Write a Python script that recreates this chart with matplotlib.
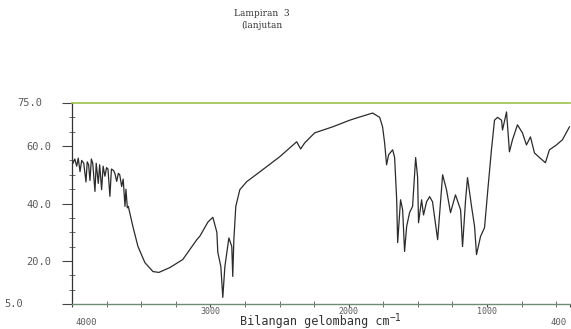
import numpy as np
import matplotlib.pyplot as plt
from matplotlib.ticker import MultipleLocator

# wavenumber (cm-1) and %T
wavenumber = [
    3993, 3980, 3966, 3955, 3942, 3930, 3915, 3899, 3890, 3880, 3870, 3860,
    3850, 3834, 3825, 3810, 3800, 3786, 3775, 3762, 3750, 3740, 3726, 3715,
    3700, 3690, 3677, 3665, 3655, 3641, 3630, 3617, 3610, 3600, 3593,
    3560, 3523, 3473, 3415, 3372, 3292, 3199, 3098, 3076, 3018, 2982, 2953,
    2946, 2924, 2910, 2895, 2866, 2845, 2838, 2830, 2816, 2787, 2737, 2643,
    2498, 2376, 2347, 2318, 2246, 2116, 1993, 1942, 1827, 1776, 1755, 1740,
    1726, 1711, 1682, 1668, 1653, 1646, 1625, 1610, 1596, 1581, 1560, 1538,
    1516, 1502, 1495, 1473, 1459, 1437, 1415, 1394, 1357, 1321, 1293, 1264,
    1228, 1191, 1177, 1155, 1141, 1112, 1090, 1076, 1047, 1018, 996, 968,
    946, 924, 895, 888, 859, 838, 816, 780, 744, 715, 686, 657, 621, 578,
    549, 498, 455, 404,
]
transmittance = [
    54.0, 55.5, 53.0, 55.8, 51.1, 55.0, 54.0, 47.5, 54.5, 53.5, 48.0, 55.5,
    54.0, 44.2, 54.0, 47.0, 53.5, 44.8, 53.0, 49.5, 52.5, 52.0, 42.5, 52.0,
    51.5, 50.5, 47.7, 50.5, 50.0, 45.9, 48.5, 39.0, 45.0, 38.5, 39.0,
    32.0, 25.0, 19.4, 16.3, 16.0, 17.7, 20.5, 27.4, 28.6, 33.5, 35.2, 30.0,
    23.0, 18.0, 7.3, 18.0, 28.0, 25.0, 14.6, 27.4, 39.0, 44.8, 47.6, 51.0,
    56.3, 61.5, 59.0, 61.1, 64.6, 66.7, 69.0, 69.8, 71.5, 70.0, 66.7, 61.0,
    53.5, 57.0, 58.7, 56.0, 41.3, 26.4, 41.3, 37.8, 23.3, 32.0, 36.8, 39.0,
    56.0, 49.3, 33.3, 41.3, 36.0, 40.6, 42.4, 40.6, 27.4, 50.0, 44.8, 36.8,
    43.0, 37.8, 25.0, 41.3, 49.0, 39.0, 32.0, 22.2, 28.5, 31.6, 43.8, 58.7,
    69.0, 70.0, 69.0, 65.6, 71.9, 58.0, 62.2, 67.4, 64.6, 60.4, 63.2, 57.6,
    56.0, 54.2, 58.7, 60.4, 62.2, 66.7,
]

yticks = [5, 20, 40, 60, 75]
ytick_labels = ["", "20.0", "40.0", "60.0", ""]
xticks = [4000, 3000, 2000, 1000, 400]
xtick_labels = ["", "3000", "2000", "1000", ""]

mono = "DejaVu Sans Mono"
grey = "#5a5a5a"

fig = plt.figure(figsize=(5.71, 3.29), dpi=100)
ax = fig.add_axes([0.1261, 1 - 304 / 329, 0.8722, 201 / 329])

ax.plot(wavenumber, transmittance, color="#2b2b2b", lw=0.9)

ax.set_xlim(4000, 400)
ax.set_ylim(5, 75)

ax.spines["right"].set_visible(False)
ax.spines["top"].set_color("#9cc24a")
ax.spines["top"].set_linewidth(1.2)
ax.spines["left"].set_color("#333333")
ax.spines["left"].set_linewidth(0.9)
ax.spines["bottom"].set_color("#6f8a78")
ax.spines["bottom"].set_linewidth(1.0)

ax.set_yticks(yticks)
ax.set_yticklabels(ytick_labels, fontfamily=mono, fontsize=7.5, color=grey)
ax.yaxis.set_minor_locator(MultipleLocator(5))
ax.tick_params(axis="y", which="major", direction="out", length=7, width=0.8,
               color="#444444", pad=8)
ax.tick_params(axis="y", which="minor", direction="inout", length=4, width=0.6,
               color="#555555")

ax.set_xticks(xticks)
ax.set_xticklabels(xtick_labels, fontfamily=mono, fontsize=6, color=grey)
ax.xaxis.set_minor_locator(MultipleLocator(250))
ax.tick_params(axis="x", which="major", direction="out", length=2.5, width=0.8,
               color="#444444", pad=0)
ax.tick_params(axis="x", which="minor", direction="inout", length=4, width=0.6,
               color="#555555")

# end labels sit lower / further out on the scan
ax.text(-0.11, 1.0, "75.0", transform=ax.transAxes, ha="left", va="center",
        fontfamily=mono, fontsize=7.5, color=grey)
ax.text(-0.135, 0.0, "5.0", transform=ax.transAxes, ha="left", va="center",
        fontfamily=mono, fontsize=7.5, color=grey)
ax.text(0.028, -0.094, "4000", transform=ax.transAxes, ha="center", va="center",
        fontfamily=mono, fontsize=6.5, color=grey)
ax.text(0.976, -0.094, "400", transform=ax.transAxes, ha="center", va="center",
        fontfamily=mono, fontsize=6.5, color=grey)

# axis title, with the exponent as a small raised text
fig.text(315 / 571, 1 - 328.5 / 329, "Bilangan gelombang cm", ha="center",
         va="bottom", fontfamily=mono, fontsize=8.5, color="#333333")
fig.text(390 / 571, 1 - 318 / 329, "\u22121", ha="left", va="center",
         fontfamily=mono, fontsize=7, color="#333333")

fig.text(262 / 571, 1 - 14 / 329, "Lampiran  3", ha="center", va="center",
         fontfamily="DejaVu Serif", fontsize=6.5, color="#333333")
fig.text(262 / 571, 1 - 25 / 329, "(lanjutan", ha="center", va="center",
         fontfamily="DejaVu Serif", fontsize=6.5, color="#333333")

fig.savefig("out.png", dpi=100)
